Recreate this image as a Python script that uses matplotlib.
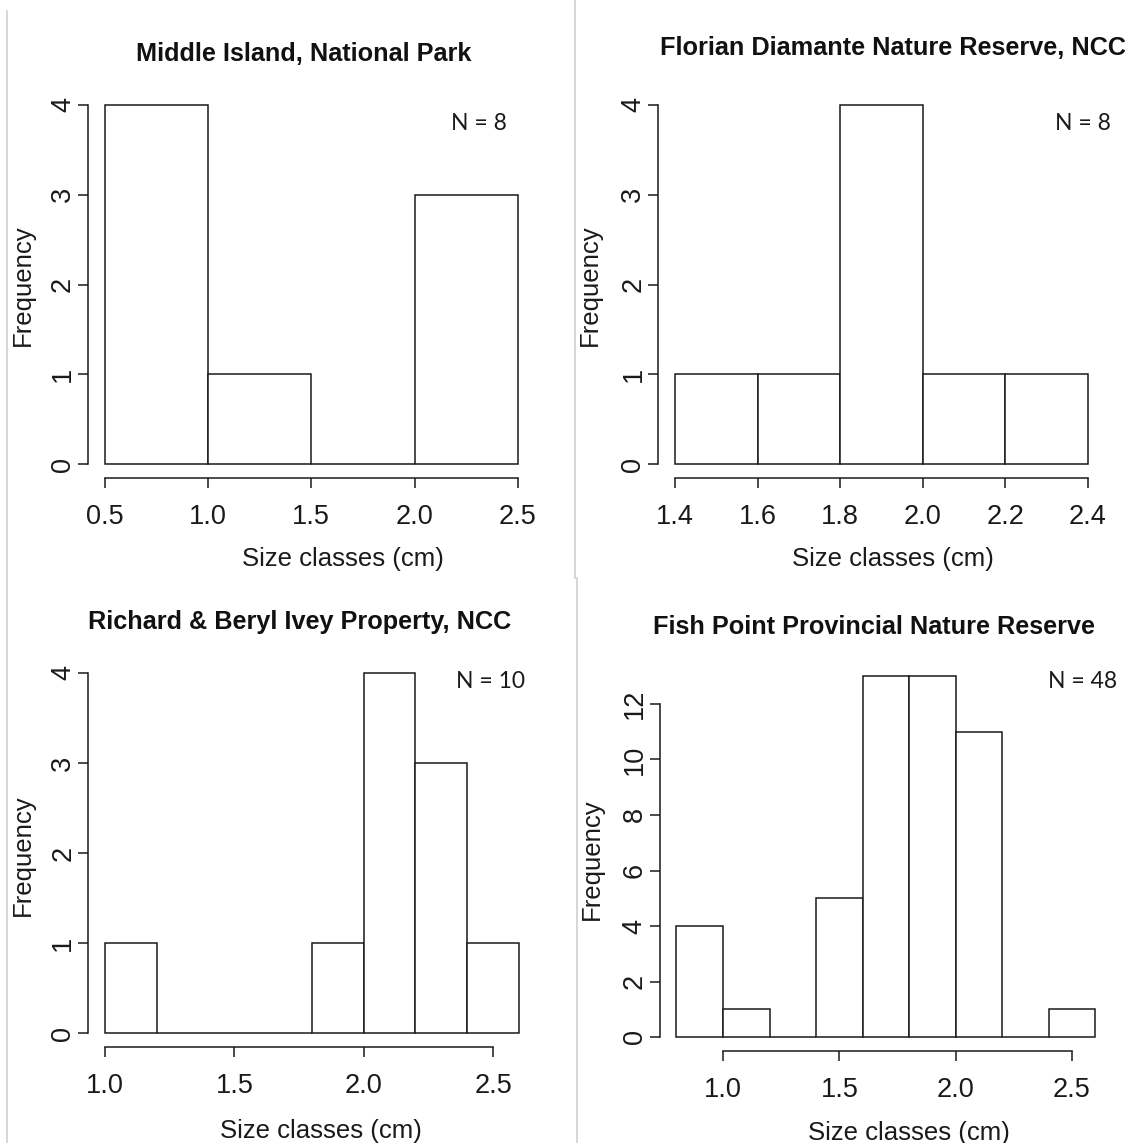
import matplotlib
matplotlib.use('Agg')
import matplotlib.pyplot as plt
from matplotlib.lines import Line2D

W, H = 1135, 1143

# ---- data ----
titles = ['Middle Island, National Park',
          'Florian Diamante Nature Reserve, NCC',
          'Richard & Beryl Ivey Property, NCC',
          'Fish Point Provincial Nature Reserve']
n_labels = ['N = 8', 'N = 8', 'N = 10', 'N = 48']

breaks_mi = [0.5, 1.0, 1.5, 2.0, 2.5]
counts_mi = [4, 1, 0, 3]
breaks_fd = [1.4, 1.6, 1.8, 2.0, 2.2, 2.4]
counts_fd = [1, 1, 4, 1, 1]
breaks_ri = [1.0, 1.2, 1.4, 1.6, 1.8, 2.0, 2.2, 2.4, 2.6]
counts_ri = [1, 0, 0, 0, 1, 4, 3, 1]
breaks_fp = [0.8, 1.0, 1.2, 1.4, 1.6, 1.8, 2.0, 2.2, 2.4, 2.6]
counts_fp = [4, 1, 0, 5, 13, 13, 11, 0, 1]

xticks_mi = [0.5, 1.0, 1.5, 2.0, 2.5]
xticks_fd = [1.4, 1.6, 1.8, 2.0, 2.2, 2.4]
xticks_ri = [1.0, 1.5, 2.0, 2.5]
xticks_fp = [1.0, 1.5, 2.0, 2.5]
yticks_small = [0, 1, 2, 3, 4]
yticks_fp = [0, 2, 4, 6, 8, 10, 12]

# ---- layout: pixel anchors (value, pixel) for x and y, text positions ----
panels = [
    dict(breaks=breaks_mi, counts=counts_mi, xticks=xticks_mi, yticks=yticks_small,
         xa=(0.5, 104.5, 2.5, 518), ya=(0, 464, 4, 105),
         title=(304, 54), nlab=(479, 123), xlab=(343, 559), ylab=(23, 285)),
    dict(breaks=breaks_fd, counts=counts_fd, xticks=xticks_fd, yticks=yticks_small,
         xa=(1.4, 675, 2.4, 1088), ya=(0, 464, 4, 105),
         title=(893, 48), nlab=(1083, 123), xlab=(893, 559), ylab=(590, 285)),
    dict(breaks=breaks_ri, counts=counts_ri, xticks=xticks_ri, yticks=yticks_small,
         xa=(1.0, 105, 2.5, 493), ya=(0, 1033, 4, 673),
         title=(300, 622), nlab=(491, 681), xlab=(321, 1131), ylab=(23, 855)),
    dict(breaks=breaks_fp, counts=counts_fp, xticks=xticks_fp, yticks=yticks_fp,
         xa=(1.0, 723, 2.5, 1072), ya=(0, 1037, 12, 704),
         title=(874, 627), nlab=(1083, 681), xlab=(909, 1133), ylab=(592, 859)),
]

rfont = 'Liberation Sans'
lw = 1.1

fig = plt.figure(figsize=(W / 100, H / 100), dpi=100)


def fx(x):
    return x / W


def fy(y):
    return 1 - y / H


for i, p in enumerate(panels):
    b = p['breaks']
    c = p['counts']
    # R style: limits extended by 4%
    xr = b[-1] - b[0]
    xlim = (b[0] - 0.04 * xr, b[-1] + 0.04 * xr)
    ymax = max(c)
    ylim = (-0.04 * ymax, ymax * 1.04)

    v0, p0, v1, p1 = p['xa']
    sx = (p1 - p0) / (v1 - v0)
    left = p0 + (xlim[0] - v0) * sx
    right = p0 + (xlim[1] - v0) * sx
    w0, q0, w1, q1 = p['ya']
    sy = (q0 - q1) / (w1 - w0)
    bottom = q0 + (w0 - ylim[0]) * sy
    top = q0 - (ylim[1] - w0) * sy

    ax = fig.add_axes([fx(left), fy(bottom), (right - left) / W, (bottom - top) / H])
    widths = [b[k + 1] - b[k] for k in range(len(c))]
    ax.bar(b[:-1], c, width=widths, align='edge', facecolor='white',
           edgecolor='#1a1a1a', linewidth=lw)
    ax.set_xlim(*xlim)
    ax.set_ylim(*ylim)

    for s in ['top', 'right']:
        ax.spines[s].set_visible(False)
    ax.spines['left'].set_bounds(p['yticks'][0], p['yticks'][-1])
    ax.spines['bottom'].set_bounds(p['xticks'][0], p['xticks'][-1])
    for s in ['left', 'bottom']:
        ax.spines[s].set_linewidth(lw)
        ax.spines[s].set_color('#1a1a1a')

    ax.set_xticks(p['xticks'])
    ax.set_xticklabels(['%.1f' % t for t in p['xticks']])
    ax.set_yticks(p['yticks'])
    ax.set_yticklabels([str(t) for t in p['yticks']])
    ax.tick_params(axis='both', length=7.2, width=lw, color='#1a1a1a',
                   labelsize=19.5, labelcolor='#1a1a1a')
    ax.tick_params(axis='x', pad=11)
    ax.tick_params(axis='y', pad=1.5)
    for lab in ax.get_xticklabels() + ax.get_yticklabels():
        lab.set_fontfamily(rfont)
    for lab in ax.get_yticklabels():
        lab.set_rotation(90)
        lab.set_va('center')
        lab.set_ha('right')

    fig.text(fx(p['title'][0]), fy(p['title'][1]), titles[i], ha='center', va='center',
             fontsize=18.2, fontweight='bold', family=rfont, color='#111111')
    fig.text(fx(p['nlab'][0]), fy(p['nlab'][1]), n_labels[i], ha='center', va='center',
             fontsize=16.5, family='Lato', color='#1a1a1a')
    fig.text(fx(p['xlab'][0]), fy(p['xlab'][1]), 'Size classes (cm)', ha='center',
             va='center', fontsize=18.5, family=rfont, color='#1a1a1a')
    fig.text(fx(p['ylab'][0]), fy(p['ylab'][1]), 'Frequency', ha='center', va='center',
             rotation=90, fontsize=18.5, family=rfont, color='#1a1a1a')

# light grey panel borders from the pasted images
grey = '#cfcfcf'
fig.add_artist(Line2D([fx(7), fx(7)], [fy(11), fy(H)], color=grey, lw=1.2))
fig.add_artist(Line2D([fx(575), fx(575)], [fy(0), fy(578)], color=grey, lw=1.2))
fig.add_artist(Line2D([fx(577), fx(577)], [fy(578), fy(H)], color=grey, lw=1.2))

fig.savefig('out.png', dpi=100)
